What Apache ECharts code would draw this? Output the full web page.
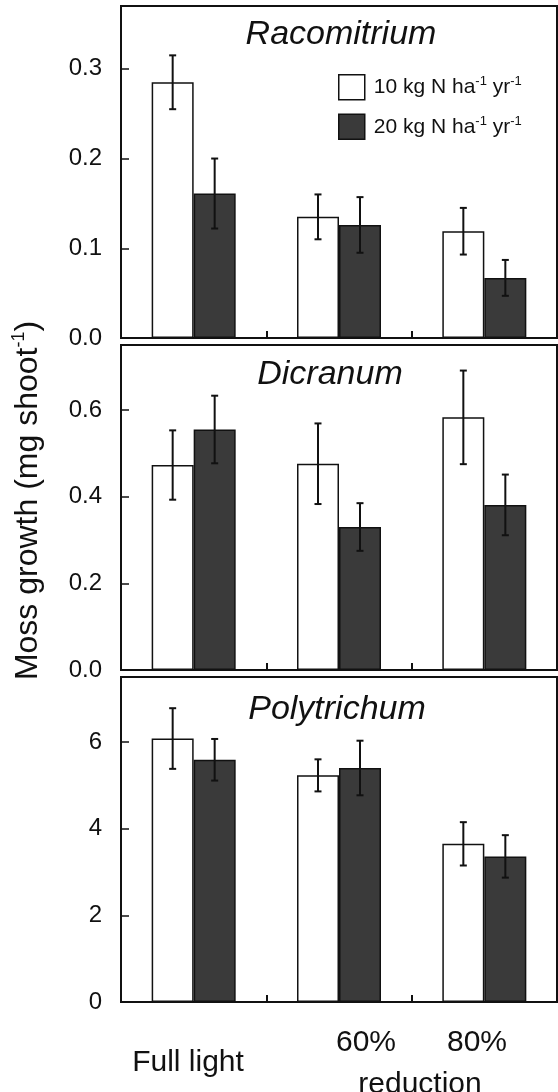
<!DOCTYPE html>
<html>
<head>
<meta charset="utf-8">
<script src="https://cdn.jsdelivr.net/npm/echarts@6/dist/echarts.min.js"></script>
<style>html,body{margin:0;padding:0;background:#fff;}#c{width:558px;height:1092px;}</style>
</head>
<body>
<div id="c"></div>
<script>
// ---- data ----
var categories = ['Full light', '60%', '80%'];
var xLabelTexts = ['Full light', '60%', '80%', 'reduction'];
var seriesNames = ['10 kg N ha-1 yr-1', '20 kg N ha-1 yr-1'];
var panelTitles = ['Racomitrium', 'Dicranum', 'Polytrichum'];

var racoLow = [0.285, 0.135, 0.119];
var racoLowErr = [0.030, 0.025, 0.026];
var racoHigh = [0.161, 0.126, 0.067];
var racoHighErr = [0.039, 0.031, 0.020];

var dicrLow = [0.473, 0.476, 0.583];
var dicrLowErr = [0.080, 0.093, 0.108];
var dicrHigh = [0.555, 0.330, 0.381];
var dicrHighErr = [0.078, 0.055, 0.070];

var polyLow = [6.08, 5.23, 3.65];
var polyLowErr = [0.70, 0.37, 0.50];
var polyHigh = [5.59, 5.40, 3.36];
var polyHighErr = [0.48, 0.63, 0.49];

var yMax = [0.37, 0.75, 7.5];
var yInterval = [0.1, 0.2, 2];
var yDecimals = [1, 1, 0];

// ---- styling ----
var FONT = 'Liberation Sans, Arial, sans-serif';
var BLACK = '#111';
var DARK = '#3a3a3a';
var BAR_W = 42;

var panels = [
  { low: racoLow, lowErr: racoLowErr, high: racoHigh, highErr: racoHighErr },
  { low: dicrLow, lowErr: dicrLowErr, high: dicrHigh, highErr: dicrHighErr },
  { low: polyLow, lowErr: polyLowErr, high: polyHigh, highErr: polyHighErr }
];
var gridTops = [6, 345, 677];
var gridHeights = [332, 325, 325];

var grids = [], xAxes = [], yAxes = [], series = [];

function errRender(offset) {
  return function (params, api) {
    var c = api.coord([api.value(0), api.value(1)]);
    var t = api.coord([api.value(0), api.value(1) + api.value(2)]);
    var b = api.coord([api.value(0), api.value(1) - api.value(2)]);
    var x = c[0] + offset;
    var cap = 3.5;
    var st = { stroke: BLACK, lineWidth: 2 };
    return {
      type: 'group',
      children: [
        { type: 'line', shape: { x1: x, y1: t[1], x2: x, y2: b[1] }, style: st },
        { type: 'line', shape: { x1: x - cap, y1: t[1], x2: x + cap, y2: t[1] }, style: st },
        { type: 'line', shape: { x1: x - cap, y1: b[1], x2: x + cap, y2: b[1] }, style: st }
      ]
    };
  };
}

panels.forEach(function (p, i) {
  grids.push({ left: 121, right: 1, top: gridTops[i], height: gridHeights[i], show: true,
    outerBoundsMode: 'none', containLabel: false,
    borderColor: BLACK, borderWidth: 2, backgroundColor: 'transparent' });
  xAxes.push({
    type: 'category', gridIndex: i, data: categories,
    axisLine: { lineStyle: { color: BLACK, width: 2 } },
    axisTick: { show: true, inside: true, length: 7, lineStyle: { color: BLACK, width: 2 } },
    axisLabel: { show: false }
  });
  var y = {
    type: 'value', gridIndex: i, min: 0, max: yMax[i], interval: yInterval[i],
    splitLine: { show: false },
    axisLine: { show: true, lineStyle: { color: BLACK, width: 2 } },
    axisTick: { show: true, inside: true, length: 8, lineStyle: { color: BLACK, width: 1.5 } },
    axisLabel: { showMaxLabel: false, fontFamily: FONT, fontSize: 24, color: '#111', margin: 19,
      formatter: (function (d) { return function (v) { return v.toFixed(d); }; })(yDecimals[i]) }
  };
  if (i === 1) {
    y.name = '{n|Moss growth (mg shoot}{s|-1}{n|)}';
    y.nameLocation = 'middle';
    y.nameGap = 75;
    y.nameRotate = 90;
    y.nameTextStyle = {
      padding: [0, 0, 0, 14],
      rich: {
        n: { fontFamily: FONT, fontSize: 32, color: '#111', lineHeight: 36 },
        s: { fontFamily: FONT, fontSize: 18, color: '#111', verticalAlign: 'top', lineHeight: 36 }
      }
    };
  }
  yAxes.push(y);

  series.push({
    name: seriesNames[0], type: 'bar', xAxisIndex: i, yAxisIndex: i, data: p.low,
    barWidth: BAR_W, barGap: '0%',
    itemStyle: { color: '#fff', borderColor: BLACK, borderWidth: 1.5 }
  });
  series.push({
    name: seriesNames[1], type: 'bar', xAxisIndex: i, yAxisIndex: i, data: p.high,
    barWidth: BAR_W, barGap: '0%',
    itemStyle: { color: DARK, borderColor: BLACK, borderWidth: 1.5 }
  });
  series.push({
    type: 'custom', xAxisIndex: i, yAxisIndex: i, z: 10,
    data: p.low.map(function (v, k) { return [k, v, p.lowErr[k]]; }),
    renderItem: errRender(-BAR_W / 2), silent: true
  });
  series.push({
    type: 'custom', xAxisIndex: i, yAxisIndex: i, z: 10,
    data: p.high.map(function (v, k) { return [k, v, p.highErr[k]]; }),
    renderItem: errRender(BAR_W / 2), silent: true
  });
});

var titleBottoms = [52, 392, 727];
var titleCenters = [341, 330, 337];
var graphics = panelTitles.map(function (t, i) {
  return { type: 'text', x: titleCenters[i], y: titleBottoms[i],
    style: { text: t, fontFamily: FONT, fontSize: 34, fontStyle: 'italic', fill: '#111',
      textAlign: 'center', textVerticalAlign: 'bottom' } };
});
var xLabelPos = [[188, 1078], [366, 1058], [477, 1058], [420, 1100]];
xLabelTexts.forEach(function (t, i) {
  graphics.push({ type: 'text', x: xLabelPos[i][0], y: xLabelPos[i][1],
    style: { text: t, fontFamily: FONT, fontSize: 30, fill: '#111', textAlign: 'center', textVerticalAlign: 'bottom' } });
});

var chart = echarts.init(document.getElementById('c'), null, { renderer: 'canvas' });
chart.setOption({
  animation: false,
  backgroundColor: '#fff',
  grid: grids,
  xAxis: xAxes,
  yAxis: yAxes,
  legend: {
    left: 333, top: 69, orient: 'vertical', itemWidth: 26, itemHeight: 25, itemGap: 13,
    icon: 'rect', selectedMode: false,
    data: [
      { name: seriesNames[0], itemStyle: { color: '#fff', borderColor: BLACK, borderWidth: 1.5 } },
      { name: seriesNames[1], itemStyle: { color: DARK, borderColor: BLACK, borderWidth: 1.5 } }
    ],
    formatter: function (name) {
      var parts = name.split(' ha-1 yr-1');
      return '{n|' + parts[0] + ' ha}{s|-1}{n| yr}{s|-1}';
    },
    textStyle: {
      padding: [0, 0, 0, 4],
      rich: {
        n: { fontFamily: FONT, fontSize: 21, color: '#111', lineHeight: 24 },
        s: { fontFamily: FONT, fontSize: 13, color: '#111', verticalAlign: 'top', lineHeight: 24 }
      }
    }
  },
  graphic: graphics,
  series: series
});
</script>
</body>
</html>
